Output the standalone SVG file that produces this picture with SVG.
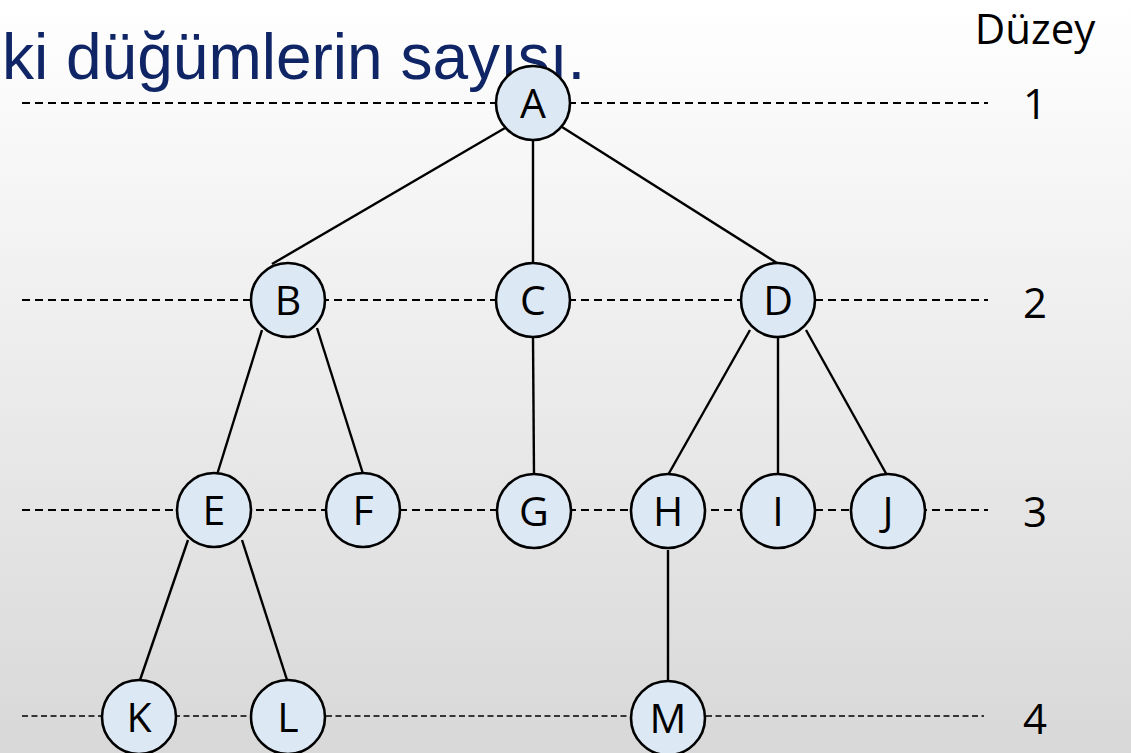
<svg xmlns="http://www.w3.org/2000/svg" width="1131" height="753" viewBox="0 0 1131 753">
<defs>
<linearGradient id="bg" x1="0" y1="0" x2="0" y2="1">
<stop offset="0" stop-color="#ffffff"/>
<stop offset="1" stop-color="#d8d8d8"/>
</linearGradient>
<style>
.lvl{stroke:#000;stroke-width:2.2;stroke-dasharray:8 5;fill:none}
.lvl4{stroke:#000;stroke-width:1.4;stroke-dasharray:6 3.5;fill:none}
.edge{stroke:#000;stroke-width:2.4;fill:none}
.node circle{fill:#dde8f5;stroke:#000;stroke-width:2.6}
.node text{font-family:"Open Sans","Liberation Sans",sans-serif;font-size:41px;text-anchor:middle;fill:#000}
.num{font-family:"Open Sans","Liberation Sans",sans-serif;font-size:42px;text-anchor:middle;fill:#000}
</style>
</defs>
<rect width="1131" height="753" fill="url(#bg)"/>
<text x="2" y="79" font-family="Liberation Sans, Arial, sans-serif" font-size="64" fill="#0f2566">ki düğümlerin sayısı.</text>
<text x="1035" y="44" class="num" font-size="40">Düzey</text>
<text x="1035" y="119" class="num">1</text>
<text x="1035" y="318" class="num">2</text>
<text x="1035" y="527" class="num">3</text>
<text x="1035" y="734" class="num">4</text>
<g id="levels">
<line class="lvl" x1="22" y1="103" x2="988" y2="103"/>
<line class="lvl" x1="22" y1="300" x2="988" y2="300"/>
<line class="lvl" x1="22" y1="510" x2="988" y2="510"/>
<line class="lvl4" x1="22" y1="716" x2="984" y2="716"/>
</g>
<g id="connectors">
<line class="edge" x1="505" y1="128" x2="272" y2="264"/>
<line class="edge" x1="533" y1="140" x2="533" y2="263"/>
<line class="edge" x1="562" y1="127" x2="777" y2="263"/>
<line class="edge" x1="262" y1="330" x2="216" y2="478"/>
<line class="edge" x1="317" y1="328" x2="364" y2="477"/>
<line class="edge" x1="533" y1="338" x2="534" y2="475"/>
<line class="edge" x1="750" y1="330" x2="668" y2="475"/>
<line class="edge" x1="778" y1="338" x2="778" y2="475"/>
<line class="edge" x1="806" y1="330" x2="888" y2="477"/>
<line class="edge" x1="188" y1="540" x2="139" y2="683"/>
<line class="edge" x1="242" y1="540" x2="288" y2="683"/>
<line class="edge" x1="668" y1="550" x2="668" y2="683"/>
</g>
<g id="A" class="node"><circle cx="533" cy="103" r="37"/><text x="533" y="118">A</text></g>
<g id="B" class="node"><circle cx="288" cy="300" r="37"/><text x="288" y="315">B</text></g>
<g id="C" class="node"><circle cx="533" cy="300" r="37"/><text x="533" y="315">C</text></g>
<g id="D" class="node"><circle cx="778" cy="300" r="37"/><text x="778" y="315">D</text></g>
<g id="E" class="node"><circle cx="214" cy="510" r="37"/><text x="214" y="525">E</text></g>
<g id="F" class="node"><circle cx="363" cy="510" r="37"/><text x="363" y="525">F</text></g>
<g id="G" class="node"><circle cx="534" cy="511" r="37"/><text x="534" y="526">G</text></g>
<g id="H" class="node"><circle cx="668" cy="511" r="37"/><text x="668" y="526">H</text></g>
<g id="I" class="node"><circle cx="778" cy="511" r="37"/><text x="778" y="526">I</text></g>
<g id="J" class="node"><circle cx="888" cy="511" r="37"/><text x="888" y="526">J</text></g>
<g id="K" class="node"><circle cx="139" cy="717" r="37"/><text x="139" y="732">K</text></g>
<g id="L" class="node"><circle cx="288" cy="717" r="37"/><text x="288" y="732">L</text></g>
<g id="M" class="node"><circle cx="668" cy="718" r="37"/><text x="668" y="733">M</text></g>
</svg>
